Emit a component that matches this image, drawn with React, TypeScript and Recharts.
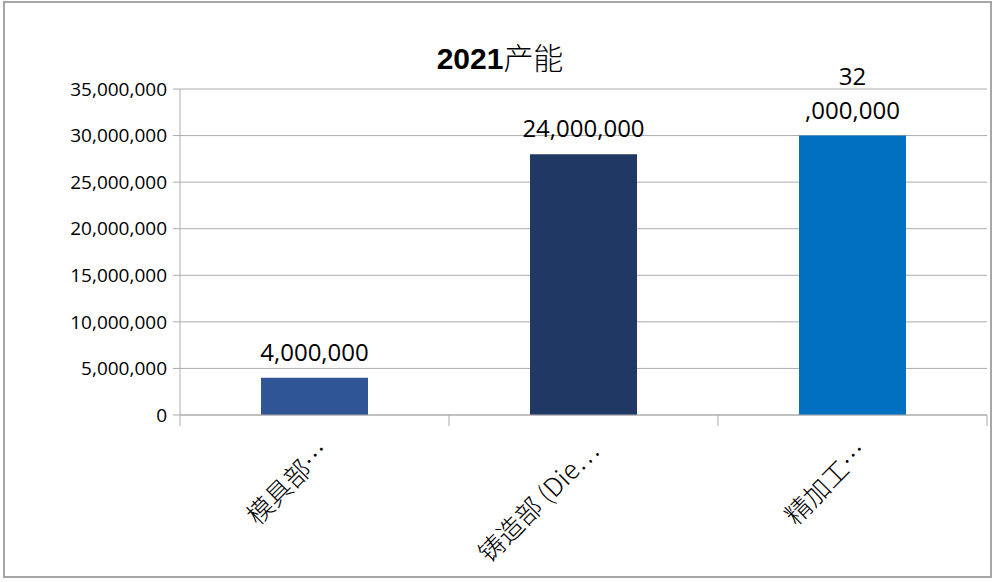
import React from 'react'
import { BarChart, Bar, XAxis, YAxis, CartesianGrid, Cell, LabelList } from 'recharts'

const categories = ['模具部…', '铸造部 (Die…', '精加工…']
const values = [4000000, 28000000, 30000000]
const valueLabels = ['4,000,000', '24,000,000', '32\n,000,000']
const barColors = ['#2F5597', '#203864', '#0070C0']
const yTicks = [0, 5000000, 10000000, 15000000, 20000000, 25000000, 30000000, 35000000]

const data = categories.map((name, i) => ({ name, value: values[i], label: valueLabels[i] }))

const GRID = '#ababab'
const NUM_FONT = '"Open Sans", "DejaVu Sans", sans-serif'
const CJK_FONT = '"Noto Sans CJK SC", "Noto Sans", sans-serif'

const fmt = (v: number) => v.toLocaleString('en-US')

function CatTick(props: any) {
  const { x, y, payload, index } = props
  const half = payload?.offset || 134.5
  return (
    <g>
      <line x1={x - half} x2={x - half} y1={y} y2={y + 11} stroke={GRID} />
      {index === categories.length - 1 && (
        <line x1={x + half} x2={x + half} y1={y} y2={y + 11} stroke={GRID} />
      )}
      <text
        transform={`translate(${x + 17},${y + 38}) rotate(-45)`}
        textAnchor="end"
        fontSize={26}
        fontFamily={CJK_FONT}
        fontWeight={300}
        fill="#000"
      >
        {payload.value}
      </text>
    </g>
  )
}

function ValueLabel(props: any) {
  const { x, y, width, value } = props
  const lines = String(value).split('\n')
  const cx = x + width / 2
  const base = y - 17
  return (
    <text textAnchor="middle" fontSize={24} fontFamily={NUM_FONT} fill="#000">
      {lines.map((l, i) => (
        <tspan key={i} x={cx} y={base - (lines.length - 1 - i) * 34}>
          {l}
        </tspan>
      ))}
    </text>
  )
}

export default function App() {
  return (
    <div style={{ position: 'absolute', left: 0, top: 0, width: 1000, height: 582, background: '#fff' }}>
      <div
        style={{
          position: 'absolute',
          left: 3,
          top: 1,
          width: 989,
          height: 577,
          border: '2px solid #a6a6a6',
          boxSizing: 'border-box',
        }}
      />
      <div
        style={{
          position: 'absolute',
          left: 0,
          top: 36,
          width: 1000,
          textAlign: 'center',
          fontSize: 30,
          lineHeight: '40px',
          color: '#000',
        }}
      >
        <span style={{ fontFamily: '"Liberation Sans", Arial, sans-serif', fontWeight: 700 }}>2021</span>
        <span style={{ fontFamily: CJK_FONT, fontWeight: 300 }}>产能</span>
      </div>
      <div style={{ position: 'absolute', left: 0, top: 0 }}>
        <BarChart
          width={1000}
          height={582}
          data={data}
          margin={{ top: 89, right: 13, bottom: 0, left: 0 }}
          barSize={107}
        >
          <CartesianGrid vertical={false} stroke={GRID} />
          <XAxis
            dataKey="name"
            interval={0}
            tickLine={false}
            tickSize={0}
            tickMargin={0}
            axisLine={{ stroke: GRID }}
            tick={<CatTick />}
            height={167}
          />
          <YAxis
            width={180}
            domain={[0, 35000000]}
            ticks={yTicks}
            interval={0}
            tickFormatter={fmt}
            tickSize={7}
            tickMargin={6}
            tickLine={{ stroke: GRID }}
            axisLine={{ stroke: GRID }}
            tick={{ fill: '#000', fontSize: 19, fontFamily: NUM_FONT }}
          />
          <Bar dataKey="value" isAnimationActive={false}>
            {data.map((d, i) => (
              <Cell key={d.name} fill={barColors[i]} />
            ))}
            <LabelList dataKey="label" content={<ValueLabel />} />
          </Bar>
        </BarChart>
      </div>
    </div>
  )
}
